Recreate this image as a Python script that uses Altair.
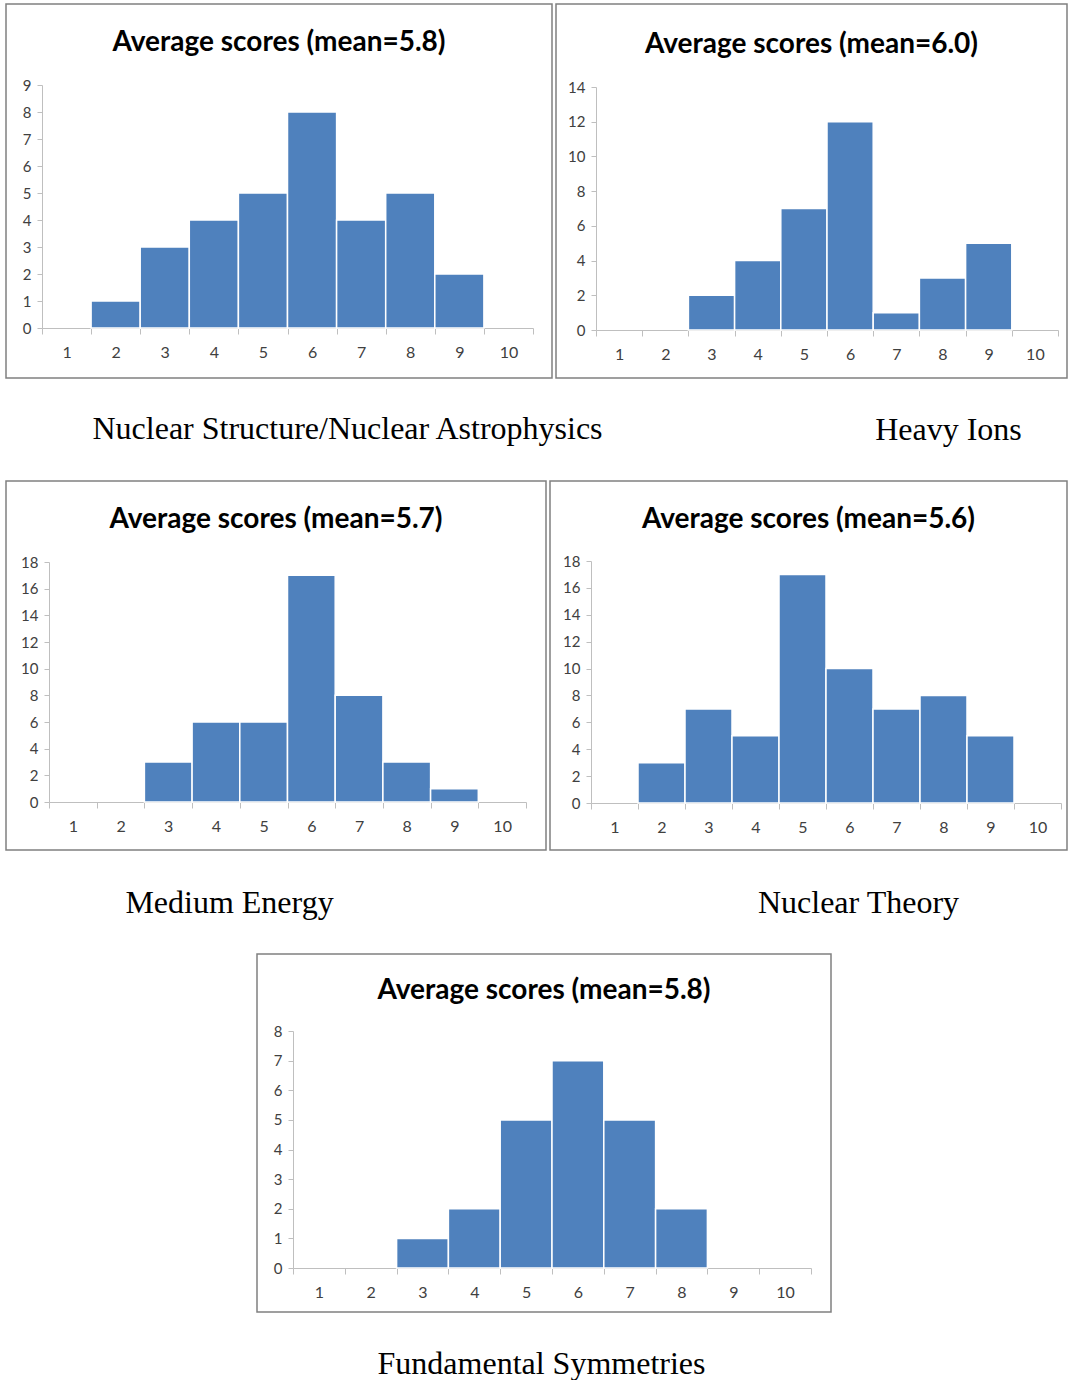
import altair as alt
import pandas as pd

# ---------------- data ----------------
scores = [1, 2, 3, 4, 5, 6, 7, 8, 9, 10]

titles = [
    "Average scores (mean=5.8)",
    "Average scores (mean=6.0)",
    "Average scores (mean=5.7)",
    "Average scores (mean=5.6)",
    "Average scores (mean=5.8)",
]
captions = [
    "Nuclear Structure/Nuclear Astrophysics",
    "Heavy Ions",
    "Medium Energy",
    "Nuclear Theory",
    "Fundamental Symmetries",
]
counts_nuclear_structure = [0, 1, 3, 4, 5, 8, 4, 5, 2, 0]
counts_heavy_ions = [0, 0, 2, 4, 7, 12, 1, 3, 5, 0]
counts_medium_energy = [0, 0, 3, 6, 6, 17, 8, 3, 1, 0]
counts_nuclear_theory = [0, 3, 7, 5, 17, 10, 7, 8, 5, 0]
counts_fundamental_sym = [0, 0, 1, 2, 5, 7, 5, 2, 0, 0]

y_max = [9, 14, 18, 18, 8]
y_step = [1, 2, 2, 2, 1]

# ---------------- styling ----------------
BAR = "#4f81bd"
AXIS_GRAY = "#bfbfbf"
LABEL_GRAY = "#404040"
SANS = "Lato"
SERIF = "Liberation Serif"


def panel(counts, title, caption, ymax, step, W, H, xr, yr, cap_x, cap_y, t_off):
    df = pd.DataFrame({"score": scores, "n": counts})
    return (
        alt.Chart(df)
        .transform_filter("datum.n > 0")
        .mark_bar(color=BAR, stroke="white", strokeWidth=1.5)
        .encode(
            x=alt.X(
                "score:O",
                scale=alt.Scale(domain=scores, range=xr, paddingInner=0, paddingOuter=0),
                axis=alt.Axis(
                    title=caption,
                    titleX=cap_x,
                    titleY=cap_y,
                    titleAlign="center",
                    titleBaseline="alphabetic",
                    titleFont=SERIF,
                    titleFontSize=32,
                    titleFontWeight="normal",
                    titleColor="black",
                    offset=yr[0] - H,
                    tickBand="extent",
                    labelAngle=0,
                    labelFont=SANS,
                    labelFontSize=16,
                    labelColor=LABEL_GRAY,
                    labelPadding=10,
                    tickSize=6,
                    tickColor=AXIS_GRAY,
                    domainColor=AXIS_GRAY,
                    grid=False,
                ),
            ),
            y=alt.Y(
                "n:Q",
                scale=alt.Scale(domain=[0, ymax], range=yr, nice=False, zero=True),
                axis=alt.Axis(
                    title=None,
                    values=list(range(0, ymax + 1, step)),
                    offset=-xr[0],
                    labelFont=SANS,
                    labelFontSize=15,
                    labelColor=LABEL_GRAY,
                    labelPadding=6,
                    tickSize=5,
                    tickColor=AXIS_GRAY,
                    domainColor=AXIS_GRAY,
                    grid=False,
                ),
            ),
        )
        .properties(
            width=W,
            height=H,
            title=alt.TitleParams(
                title,
                font=SANS,
                fontSize=28,
                fontWeight="bold",
                color="black",
                anchor="middle",
                frame="group",
                baseline="alphabetic",
                offset=t_off,
            ),
        )
    )


p1 = panel(counts_nuclear_structure, titles[0], captions[0], y_max[0], y_step[0],
           546, 374, [36, 527], [324, 81], 341, 110, -75)
p2 = panel(counts_heavy_ions, titles[1], captions[1], y_max[1], y_step[1],
           511, 374, [40, 502], [326, 83], 392, 109, -77)
p3 = panel(counts_medium_energy, titles[2], captions[2], y_max[2], y_step[2],
           540, 369, [43, 520], [321, 81], 223, 110, -75)
p4 = panel(counts_nuclear_theory, titles[3], captions[3], y_max[3], y_step[3],
           517, 369, [41, 511], [322, 80], 308, 109, -75)
p5 = panel(counts_fundamental_sym, titles[4], captions[4], y_max[4], y_step[4],
           574, 358, [36, 554], [314, 77], 284, 105, -73)

spacer = (
    alt.Chart(pd.DataFrame({"a": [0]}))
    .mark_point(opacity=0)
    .encode(x=alt.X("a:Q", axis=None), y=alt.Y("a:Q", axis=None))
    .properties(width=247, height=10, view=alt.ViewBackground(strokeOpacity=0))
)

row1 = alt.hconcat(p1, p2, spacing=4, bounds="flush")
row2 = alt.hconcat(p3, p4, spacing=4, bounds="flush")
row3 = alt.hconcat(spacer, p5, spacing=4, bounds="flush")

chart = (
    alt.vconcat(row1, row2, row3, spacing=34)
    .properties(padding={"left": 5, "top": 3, "right": 0, "bottom": 0}, background="white")
    .configure_view(stroke="#808080", strokeWidth=1.5)
)

chart.save("out.html", embed_options={"renderer": "svg", "actions": False})
